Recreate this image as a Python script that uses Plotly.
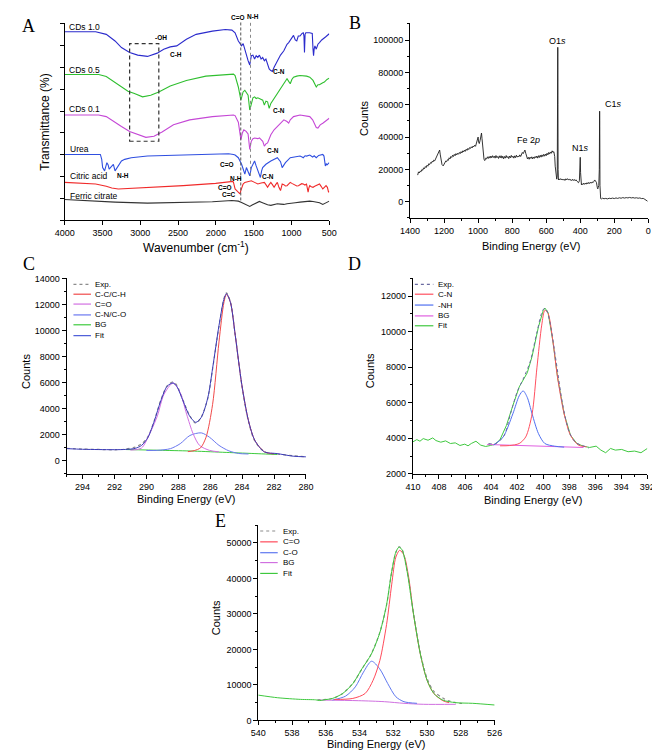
import plotly.graph_objects as go

W, H = 660, 750

# ---------------- Panel A : FTIR (wavenumber, transmittance a.u.) ----------------
cds10 = [(4000, 573), (3800, 573), (3590, 573), (3450, 565), (3334, 545), (3249, 525), (3141, 510),
         (3034, 502), (2905, 498), (2776, 508), (2690, 520), (2604, 527), (2518, 530), (2390, 550),
         (2261, 565), (2046, 575), (1875, 580), (1788, 578), (1767, 575), (1746, 570), (1703, 545),
         (1680, 535), (1660, 530), (1639, 537), (1617, 518), (1596, 500), (1574, 485), (1552, 472),
         (1531, 500), (1510, 502), (1488, 490), (1467, 500), (1445, 495), (1424, 502), (1402, 490),
         (1381, 495), (1359, 485), (1338, 490), (1316, 470), (1295, 460), (1273, 455), (1252, 452),
         (1230, 465), (1209, 475), (1187, 485), (1145, 502), (1101, 515), (1059, 535), (1037, 540),
         (1000, 555), (973, 562), (950, 548), (930, 545), (910, 560), (887, 560), (860, 568),
         (844, 570), (835, 560), (828, 510), (820, 565), (810, 570), (760, 570), (725, 568),
         (715, 520), (708, 500), (700, 520), (690, 530), (672, 520), (650, 535), (630, 540),
         (600, 548), (550, 557), (500, 567)]
cds05 = [(4000, 443), (3550, 443), (3450, 437), (3377, 425), (3249, 405), (3163, 392), (3077, 385),
         (2970, 375), (2862, 380), (2755, 390), (2604, 408), (2390, 425), (2132, 438), (1875, 443),
         (1767, 444), (1746, 440), (1724, 425), (1703, 405), (1669, 365), (1650, 380), (1640, 390),
         (1617, 395), (1596, 388), (1574, 380), (1552, 335), (1531, 355), (1510, 372), (1488, 375),
         (1467, 370), (1445, 372), (1424, 370), (1402, 368), (1380, 365), (1359, 350), (1338, 362),
         (1316, 360), (1295, 340), (1273, 355), (1252, 362), (1187, 385), (1145, 400), (1101, 415),
         (1059, 430), (1037, 422), (1016, 415), (995, 428), (973, 435), (930, 438), (887, 440),
         (800, 438), (758, 435), (715, 425), (690, 410), (672, 405), (650, 412), (630, 412),
         (586, 418), (565, 420), (530, 428), (500, 432)]
cds01 = [(4000, 320), (3550, 320), (3450, 315), (3377, 305), (3249, 285), (3141, 270), (3034, 260),
         (2926, 252), (2819, 255), (2712, 268), (2561, 290), (2347, 305), (2046, 315), (1875, 318),
         (1767, 320), (1746, 318), (1724, 308), (1703, 298), (1669, 245), (1650, 265), (1630, 275),
         (1600, 270), (1574, 262), (1552, 215), (1531, 240), (1510, 248), (1488, 250), (1445, 248),
         (1424, 250), (1402, 245), (1380, 240), (1359, 225), (1338, 232), (1316, 235), (1295, 250),
         (1273, 260), (1230, 275), (1187, 285), (1145, 297), (1101, 305), (1059, 300), (1037, 295),
         (1016, 305), (973, 315), (887, 320), (800, 318), (758, 315), (720, 305), (693, 290),
         (672, 282), (650, 280), (620, 290), (586, 295), (540, 303), (500, 310)]
urea = [(4000, 200), (3700, 200), (3528, 200), (3510, 185), (3498, 160), (3472, 150), (3455, 165),
        (3442, 175), (3425, 168), (3412, 155), (3395, 160), (3377, 165), (3356, 170), (3334, 150),
        (3310, 158), (3291, 165), (3249, 180), (3206, 185), (3120, 190), (2905, 195), (2475, 198),
        (2046, 200), (1832, 202), (1767, 200), (1746, 198), (1703, 190), (1681, 180), (1660, 170),
        (1638, 155), (1617, 140), (1596, 160), (1574, 150), (1552, 135), (1531, 160), (1510, 170),
        (1488, 180), (1467, 165), (1445, 150), (1424, 140), (1411, 130), (1395, 150), (1381, 160),
        (1338, 170), (1273, 180), (1187, 190), (1145, 178), (1123, 160), (1101, 168), (1080, 175),
        (1016, 190), (950, 193), (887, 195), (860, 192), (844, 190), (820, 196), (800, 195),
        (758, 198), (720, 192), (700, 196), (672, 190), (640, 197), (586, 200), (570, 195),
        (565, 185), (552, 165), (540, 172), (530, 168), (500, 175)]
citric = [(4000, 115), (3800, 113), (3590, 110), (3450, 103), (3377, 98), (3291, 95), (3100, 97),
          (2862, 100), (2432, 105), (2003, 112), (1850, 116), (1790, 118), (1775, 118), (1767, 115),
          (1746, 95), (1724, 90), (1703, 86), (1681, 80), (1670, 90), (1660, 100), (1640, 110),
          (1617, 115), (1574, 118), (1531, 120), (1488, 115), (1445, 110), (1402, 113), (1380, 115),
          (1359, 115), (1338, 108), (1316, 100), (1295, 108), (1273, 115), (1252, 108), (1230, 100),
          (1209, 108), (1187, 115), (1166, 100), (1145, 90), (1134, 100), (1123, 110), (1101, 108),
          (1080, 104), (1059, 105), (1037, 110), (1016, 115), (995, 112), (973, 110), (950, 106),
          (930, 104), (908, 105), (887, 108), (865, 111), (844, 110), (822, 107), (801, 110),
          (790, 100), (780, 85), (770, 98), (758, 105), (737, 102), (715, 100), (693, 103),
          (672, 105), (650, 108), (629, 110), (608, 103), (586, 95), (565, 100), (543, 105),
          (525, 100), (515, 92), (509, 85), (500, 88)]
ferric = [(4000, 63), (3700, 59), (3334, 55), (2905, 52), (2475, 53), (2046, 56), (1788, 60),
          (1746, 59), (1703, 58), (1660, 54), (1617, 50), (1585, 45), (1552, 42), (1520, 46),
          (1488, 50), (1456, 55), (1424, 57), (1392, 54), (1359, 50), (1316, 47), (1273, 45),
          (1230, 47), (1187, 50), (1145, 49), (1101, 48), (1059, 50), (1016, 52), (950, 53),
          (887, 55), (820, 57), (758, 58), (715, 57), (672, 56), (629, 53), (586, 48), (543, 52),
          (500, 58)]

a_series = [("CDs 1.0", cds10, "#2b2bcc"), ("CDs 0.5", cds05, "#2fbf2f"), ("CDs 0.1", cds01, "#c548d6"),
            ("Urea", urea, "#2f4fe0"), ("Citric acid", citric, "#f02a2a"), ("Ferric citrate", ferric, "#333333")]
a_label_pos = [(3975, 588), (3975, 458), (3975, 338), (3960, 217), (3960, 135), (3960, 74)]
a_wn_ticks = [4000, 3500, 3000, 2500, 2000, 1500, 1000, 500]

# ---------------- Panel B : XPS survey ----------------
survey = [(1355, 16500), (1350, 18500), (1345, 17800), (1340, 19000), (1335, 18600), (1330, 20000),
          (1325, 19500), (1320, 21000), (1315, 20400), (1310, 21800), (1305, 21200), (1300, 22600),
          (1295, 22000), (1290, 23500), (1285, 23000), (1280, 24200), (1275, 23800), (1270, 25000),
          (1265, 24600), (1260, 25800), (1255, 25300), (1250, 26500), (1245, 27000), (1240, 28000),
          (1235, 29500), (1230, 31500), (1226, 32000), (1222, 29000), (1218, 25000), (1212, 23000),
          (1205, 22200), (1200, 23500), (1195, 24000), (1190, 25200), (1185, 24800), (1180, 26000),
          (1175, 25600), (1170, 27200), (1165, 26500), (1160, 28000), (1155, 27400), (1150, 28800),
          (1145, 28000), (1140, 29300), (1135, 28500), (1130, 29800), (1125, 29000), (1120, 30000),
          (1115, 29400), (1110, 30500), (1105, 29800), (1100, 31000), (1095, 30200), (1090, 31500),
          (1085, 30800), (1080, 32000), (1075, 31200), (1070, 32500), (1065, 31800), (1060, 33000),
          (1055, 32300), (1050, 33500), (1045, 33000), (1040, 34000), (1035, 33300), (1030, 34500),
          (1025, 34000), (1020, 35000), (1015, 34300), (1010, 36000), (1005, 37500), (1000, 40000),
          (997, 37000), (993, 36000), (988, 38000), (983, 40500), (980, 42500), (977, 39000),
          (973, 33000), (970, 28000), (965, 26000), (960, 25500), (955, 27000), (950, 26500),
          (945, 27800), (940, 26800), (935, 28000), (930, 27000), (925, 28300), (920, 27200),
          (915, 28500), (910, 27400), (905, 28200), (900, 27000), (895, 28600), (890, 27300),
          (885, 28000), (880, 26800), (875, 28400), (870, 27200), (865, 28500), (860, 27000),
          (855, 28200), (850, 26600), (845, 28000), (840, 27000), (835, 28600), (830, 27300),
          (825, 28000), (820, 26700), (815, 28300), (810, 27200), (805, 28700), (800, 27500),
          (795, 28200), (790, 27000), (785, 28400), (780, 27300), (775, 28800), (770, 27600),
          (765, 28300), (760, 27800), (755, 29000), (750, 28000), (745, 29500), (740, 30500),
          (735, 29800), (730, 31500), (725, 32000), (720, 30000), (715, 28000), (710, 26500),
          (705, 27500), (700, 26300), (695, 27600), (690, 26800), (685, 27800), (680, 26500),
          (675, 27700), (670, 26800), (665, 28000), (660, 27200), (655, 28300), (650, 27000),
          (645, 28500), (640, 27400), (635, 28800), (630, 27600), (625, 29000), (620, 28000),
          (615, 29300), (610, 28200), (605, 29500), (600, 28500), (595, 30000), (590, 29000),
          (585, 30500), (580, 29500), (575, 30800), (570, 30000), (565, 31500), (560, 30500),
          (555, 31000), (550, 28000), (547, 22000), (544, 17000), (541, 14500), (538, 14000),
          (535, 16000), (533, 40000), (532, 95500), (531, 60000), (530, 20000), (528, 13500),
          (525, 14200), (520, 13600), (515, 14300), (510, 13500), (505, 14100), (500, 13400),
          (495, 14000), (490, 13200), (485, 14200), (480, 13500), (475, 14300), (470, 13600),
          (465, 14000), (460, 13300), (455, 13800), (450, 13100), (445, 13900), (440, 13200),
          (435, 13800), (430, 13000), (425, 13600), (420, 12800), (415, 12500), (410, 11800),
          (405, 13000), (402, 20000), (400, 27500), (398, 18000), (396, 11500), (393, 10500),
          (390, 11200), (385, 10600), (380, 11500), (375, 10800), (370, 11600), (365, 10900),
          (360, 11800), (355, 11100), (350, 12000), (345, 11300), (340, 12100), (335, 11500),
          (330, 12300), (325, 11800), (320, 12600), (315, 13500), (310, 12800), (305, 12000),
          (300, 9000), (297, 8000), (294, 9000), (291, 10000), (288, 20000), (286, 56000),
          (285, 40000), (284, 10000), (283, 2500), (280, 2000), (275, 1800), (270, 2200),
          (260, 1900), (250, 2100), (240, 1800), (230, 2200), (220, 2000), (210, 2300), (200, 2000),
          (190, 2400), (180, 2100), (170, 2500), (160, 2200), (150, 2600), (140, 2300), (130, 2600),
          (120, 2400), (110, 2700), (100, 2400), (90, 2600), (80, 2300), (70, 2500), (60, 2200),
          (50, 2400), (40, 2000), (30, 2100), (20, 1500), (15, 1000), (10, 800), (5, 400)]
b_peak_labels = [("O1<i>s</i>", 534, 99500), ("C1<i>s</i>", 203, 60500), ("N1<i>s</i>", 396, 33500),
                 ("Fe 2<i>p</i>", 701, 38000)]

# ---------------- Panel C : C1s ----------------
c_exp = [(295.0, 950), (294.0, 900), (293.0, 870), (292.0, 840), (291.3, 900), (290.7, 1050),
         (290.3, 1300), (289.9, 1850), (289.5, 3100), (289.1, 4650), (288.7, 5750), (288.33, 6050),
         (288.1, 5800), (287.7, 4650), (287.3, 3500), (286.9, 2880), (286.56, 3350), (286.15, 4800),
         (285.85, 7050), (285.45, 10300), (285.14, 12450), (284.98, 12900), (284.73, 12200),
         (284.43, 9650), (284.02, 5800), (283.6, 3000), (283.2, 1500), (282.6, 700), (281.8, 520),
         (280.8, 380), (280.0, 300)]
c_cc = [(287.4, 700), (287.0, 780), (286.6, 1000), (286.26, 1810), (285.85, 4330), (285.45, 9120),
        (285.14, 12150), (284.98, 12780), (284.73, 12150), (284.43, 9630), (284.02, 5850),
        (283.6, 3070), (283.2, 1560), (282.6, 680), (282.0, 520)]
c_co = [(291.0, 820), (290.32, 960), (289.71, 2300), (289.31, 3450), (288.9, 5090), (288.33, 5970),
        (287.88, 5220), (287.48, 3580), (287.07, 2070), (286.67, 1180), (286.05, 800), (285.45, 680)]
c_cn = [(290.0, 790), (289.31, 800), (288.49, 930), (287.88, 1310), (287.27, 1940), (286.56, 2140),
        (286.05, 1810), (285.45, 1180), (284.83, 760), (284.22, 560), (283.6, 520)]
c_bg = [(291.3, 860), (289.0, 800), (287.0, 740), (285.0, 640), (283.0, 540), (281.8, 480)]
c_fit = [(295.0, 930), (294.0, 880), (293.0, 860), (292.0, 850), (291.3, 870), (290.7, 950),
         (290.3, 1180), (289.9, 1800), (289.5, 3070), (289.1, 4590), (288.7, 5720), (288.33, 5970),
         (288.1, 5720), (287.7, 4590), (287.3, 3450), (286.9, 2950), (286.56, 3330), (286.15, 4840),
         (285.85, 7100), (285.45, 10380), (285.14, 12400), (284.98, 12830), (284.73, 12150),
         (284.43, 9630), (284.02, 5850), (283.6, 3070), (283.2, 1560), (282.6, 680), (281.8, 550),
         (280.8, 350), (280.0, 300)]

# ---------------- Panel D : N1s ----------------
d_exp = [(404.2, 3700), (403.6, 3720), (403.0, 4150), (402.5, 5400), (402.0, 6600), (401.5, 7400),
         (401.0, 8300), (400.5, 9900), (400.0, 11250), (399.8, 11300), (399.5, 10600), (399.0, 8300),
         (398.5, 5900), (398.0, 4350), (397.5, 3750), (397.0, 3600), (396.5, 3450)]
d_cn = [(403.31, 3574), (402.57, 3590), (401.84, 3704), (401.34, 4074), (400.85, 5371), (400.48, 7963),
        (400.11, 10370), (399.87, 11204), (399.62, 11019), (399.25, 9445), (398.89, 7408),
        (398.39, 5371), (397.9, 4167), (397.29, 3611), (396.67, 3519)]
d_nh = [(403.8, 3611), (403.07, 4074), (402.33, 5371), (401.84, 6389), (401.54, 6667), (401.22, 6297),
        (400.85, 5371), (400.36, 4259), (399.87, 3704), (399.13, 3556), (398.39, 3500)]
d_bg = [(404.3, 3650), (396.9, 3480)]
d_fit = [(410.0, 3796), (409.7, 3926), (409.46, 3833), (409.21, 3981), (408.84, 3889), (408.48, 4019),
         (408.23, 3870), (407.86, 3778), (407.49, 3852), (407.12, 3704), (406.75, 3741), (406.39, 3593),
         (406.02, 3667), (405.77, 3574), (405.52, 3704), (405.16, 3833), (404.79, 3611), (404.42, 3537),
         (404.05, 3593), (403.68, 3667), (403.31, 3926), (402.82, 4722), (402.33, 5834), (401.84, 6889),
         (401.22, 7686), (400.85, 8612), (400.36, 10278), (399.99, 11204), (399.87, 11334),
         (399.62, 11075), (399.25, 9445), (398.89, 7408), (398.39, 5371), (397.9, 4167), (397.41, 3704),
         (396.92, 3556), (396.43, 3482), (395.93, 3556), (395.57, 3333), (395.2, 3185), (394.83, 3426),
         (394.46, 3333), (393.97, 3370), (393.48, 3241), (392.98, 3278), (392.49, 3185), (392.0, 3426)]

# ---------------- Panel E : O1s ----------------
e_exp = [(536.5, 5800), (535.6, 6200), (535.0, 7600), (534.4, 10400), (533.86, 14500), (533.3, 18800),
         (532.8, 24800), (532.4, 32500), (532.1, 41700), (531.85, 47300), (531.66, 48900),
         (531.47, 48000), (531.18, 42000), (530.8, 30000), (530.4, 19000), (530.0, 11800),
         (529.6, 8200), (529.07, 6300), (528.7, 5500), (528.3, 5000), (527.8, 4700)]
e_ceo = [(535.5, 5900), (534.4, 6200), (533.67, 7590), (533.2, 11300), (532.8, 16850), (532.4, 27040),
         (532.1, 38150), (531.85, 46000), (531.62, 47900), (531.37, 46500), (531.09, 40300),
         (530.8, 29800), (530.4, 18700), (530.0, 11300), (529.6, 7590), (529.07, 5560), (528.7, 5000)]
e_co = [(535.6, 5740), (534.83, 6850), (534.25, 9450), (533.77, 13600), (533.29, 16670), (532.81, 14540),
        (532.33, 10370), (531.85, 6670), (531.37, 5280), (530.6, 4820)]
e_bg = [(536.36, 5740), (534.05, 5560), (532.52, 5280), (531.37, 4820), (530.2, 4540), (528.3, 4540)]
e_fit = [(540.0, 7130), (538.85, 6390), (537.5, 5930), (536.6, 5800), (536.36, 5600), (536.1, 5800),
         (535.6, 6200), (535.0, 7590), (534.4, 10370), (533.86, 14540), (533.3, 18700), (532.8, 24720),
         (532.4, 32600), (532.1, 41850), (531.85, 47400), (531.66, 48800), (531.47, 47900),
         (531.18, 41850), (530.8, 29800), (530.4, 18700), (530.0, 11300), (529.6, 7590),
         (529.07, 5740), (528.3, 5000), (527.3, 4820), (526.0, 4350)]

# =============================================================================
FONT = "Liberation Sans, Arial, sans-serif"
fig = go.Figure()


def xs(p):
    return [a for a, _ in p]


def ys(p):
    return [b for _, b in p]


def add(p, xa, ya, color, width=1.0, dash=None, shape="linear"):
    fig.add_trace(go.Scatter(x=xs(p), y=ys(p), xaxis=xa, yaxis=ya, mode="lines",
                             line=dict(color=color, width=width, dash=dash, shape=shape, smoothing=0.8),
                             showlegend=False, hoverinfo="skip"))


def px(x):
    return x / W


def py(y):
    return 1 - y / H


# Panel A traces
for name, data, col in a_series:
    add(data, "x", "y", col, 1.1)
# Panel B
add(survey, "x2", "y2", "#1e1e1e", 0.9)
# Panel C
add(c_exp, "x3", "y3", "#8c8c8c", 1.2, "dot", "spline")
add(c_bg, "x3", "y3", "#3ecb3e", 1.0, None, "spline")
add(c_cn, "x3", "y3", "#6a78f0", 1.0, None, "spline")
add(c_co, "x3", "y3", "#d270e2", 1.0, None, "spline")
add(c_cc, "x3", "y3", "#f04a4a", 1.0, None, "spline")
add(c_fit, "x3", "y3", "#3a3ab8", 1.0, None, "spline")
# Panel D
add(d_fit, "x4", "y4", "#40c840", 1.0, None, "linear")
add(d_bg, "x4", "y4", "#e060e0", 1.0, None, "linear")
add(d_nh, "x4", "y4", "#5070f0", 1.0, None, "spline")
add(d_cn, "x4", "y4", "#ff5060", 1.0, None, "spline")
add(d_exp, "x4", "y4", "#6a6aa0", 1.0, "dot", "spline")
# Panel E
add(e_bg, "x5", "y5", "#d070e0", 1.0, None, "spline")
add(e_co, "x5", "y5", "#5f78f0", 1.0, None, "spline")
add(e_ceo, "x5", "y5", "#ff4a5a", 1.0, None, "spline")
add(e_exp, "x5", "y5", "#8c8c8c", 1.2, "dot", "spline")
add(e_fit, "x5", "y5", "#3ec83e", 1.0, None, "spline")


def axis(domain, rng, anchor, dtick=None, minor=None, labels=True, tick0=None, tickvals=None, fmt=None):
    d = dict(domain=domain, range=rng, anchor=anchor, showline=True, linecolor="black", linewidth=1,
             ticks="outside", ticklen=4, tickwidth=1, tickcolor="black", showgrid=False, zeroline=False,
             showticklabels=labels, ticklabeloverflow="allow",
             tickfont=dict(family=FONT, size=9, color="black"))
    if dtick is not None:
        d["dtick"] = dtick
    if tick0 is not None:
        d["tick0"] = tick0
    if tickvals is not None:
        d["tickvals"] = tickvals
        d["tickmode"] = "array"
    if fmt:
        d["tickformat"] = fmt
    if minor is not None:
        d["minor"] = dict(dtick=minor, ticks="outside", ticklen=2, tickwidth=1, tickcolor="black", showgrid=False)
    return d


xA = [px(48), px(320)]
yA = [py(210), py(10)]
xB = [px(403), px(648)]
yB = [py(208), py(10)]
xC = [px(50), px(296)]
yCD = [py(467), py(269)]
xD = [px(406), px(647)]
xE = [px(247), px(490)]
yE = [py(717), py(519)]

fig.update_layout(
    width=W, height=H, autosize=False, margin=dict(l=0, r=0, t=0, b=0),
    paper_bgcolor="white", plot_bgcolor="white", showlegend=False,
    font=dict(family=FONT, color="black"),
    xaxis=axis(xA, [4000, 500], "y", tickvals=a_wn_ticks),
    yaxis=axis(yA, [0, 600], "x", dtick=66.3, tick0=0, labels=False),
    xaxis2=axis(xB, [1400, 0], "y2", dtick=200, minor=100),
    yaxis2=axis(yB, [-10150, 110600], "x2", dtick=20000, tick0=0, minor=10000, fmt="d"),
    xaxis3=axis(xC, [295, 280], "y3", dtick=2, minor=1),
    yaxis3=axis(yCD, [-1000, 14000], "x3", dtick=2000, tick0=0, minor=1000, fmt="d"),
    xaxis4=axis(xD, [410, 392], "y4", dtick=2, minor=1),
    yaxis4=axis(yCD, [2000, 13000], "x4", dtick=2000, tick0=0, minor=1000, fmt="d"),
    xaxis5=axis(xE, [540, 526], "y5", dtick=2, minor=1),
    yaxis5=axis(yE, [0, 55000], "x5", dtick=10000, tick0=0, minor=5000, fmt="d"),
)

ann = []


def text(t, x, y, size=11, xref="paper", yref="paper", angle=0, xanchor="center", family=FONT, yanchor="middle"):
    ann.append(dict(text=t, x=x, y=y, xref=xref, yref=yref, showarrow=False, textangle=angle,
                    xanchor=xanchor, yanchor=yanchor, font=dict(family=family, size=size, color="black")))


# panel letters
SERIF = "Liberation Serif, DejaVu Serif, serif"
for letter, lx, ly in [("A", 11, 13), ("B", 346, 10), ("C", 11, 254), ("D", 346, 254), ("E", 208, 515)]:
    text(letter, px(lx), py(ly), 18, family=SERIF)

# axis titles
text("Transmittance (%)", px(27), py(110), 12, angle=-90)
text("Wavenumber (cm<sup>-1</sup>)", px(183), py(237), 12)
text("Counts", px(355), py(107), 11, angle=-90)
text("Binding Energy (eV)", px(527), py(236), 11)
text("Counts", px(8), py(363), 11, angle=-90)
text("Binding Energy (eV)", px(173), py(493), 11)
text("Counts", px(362), py(363), 11, angle=-90)
text("Binding Energy (eV)", px(529), py(494), 11)
text("Counts", px(203), py(613), 11, angle=-90)
text("Binding Energy (eV)", px(368), py(741), 11)

# Panel A labels
for (name, _, _), (lx, ly) in zip(a_series, a_label_pos):
    text(name, lx, ly, 8.5, "x", "y", xanchor="left")
a_small = [("-OH", 2720, 555), ("C-H", 2531, 505),
           ("C-N", 1166, 452), ("C-N", 1166, 334), ("C-N", 1240, 212), ("C-N", 1305, 133),
           ("C=O", 1857, 170), ("N-H", 3230, 137), ("N-H", 1737, 128), ("C=O", 1874, 100),
           ("C=C", 1832, 78)]
for t, x, y in a_small:
    text("<b>%s</b>" % t, x, y, 6.5, "x", "y")
# labels above the plot area of panel A
text("<b>C=O</b>", px(226), py(5), 6.5)
text("<b>N-H</b>", px(242), py(4), 6.5)

shapes = [
    dict(type="rect", xref="x", yref="y", x0=3141, x1=2755, y0=240, y1=537,
         line=dict(color="#333333", width=1.2, dash="4px,3px")),
    dict(type="line", xref="x", yref="paper", x0=1671, x1=1671, y0=py(190), y1=py(8),
         line=dict(color="#555555", width=1, dash="3px,2px")),
    dict(type="line", xref="x", yref="paper", x0=1542, x1=1542, y0=py(165), y1=py(8),
         line=dict(color="#888888", width=1, dash="dot")),
]

# Panel B labels
for t, x, y in b_peak_labels:
    text(t, x, y, 9, "x2", "y2")

# manual legends
legends = [
    (57, 75, 77, [275, 285, 295, 306, 316, 327],
     [("Exp.", "#8c8c8c", "dot"), ("C-C/C-H", "#f04a4a", None), ("C=O", "#d270e2", None),
      ("C-N/C-O", "#6a78f0", None), ("BG", "#3ecb3e", None), ("Fit", "#4a5ad8", None)]),
    (408, 427, 430, [275, 285, 296, 307, 317],
     [("Exp.", "#6a6aa0", "dot"), ("C-N", "#ff5060", None), ("-NH", "#5070f0", None),
      ("BG", "#e060e0", None), ("Fit", "#40c840", None)]),
    (249, 267, 270, [525, 536, 547, 557, 568],
     [("Exp.", "#8c8c8c", "dot"), ("C=O", "#ff4a5a", None), ("C-O", "#5f78f0", None),
      ("BG", "#d070e0", None), ("Fit", "#3ec83e", None)]),
]
for x0, x1, xt, rows, items in legends:
    for yy, (lab, col, dash) in zip(rows, items):
        shapes.append(dict(type="line", xref="paper", yref="paper", x0=px(x0), x1=px(x1), y0=py(yy), y1=py(yy),
                           line=dict(color=col, width=1.2, dash=dash)))
        text(lab, px(xt), py(yy), 8, xanchor="left")

fig.update_layout(annotations=ann, shapes=shapes)
fig.write_html("out.html")
